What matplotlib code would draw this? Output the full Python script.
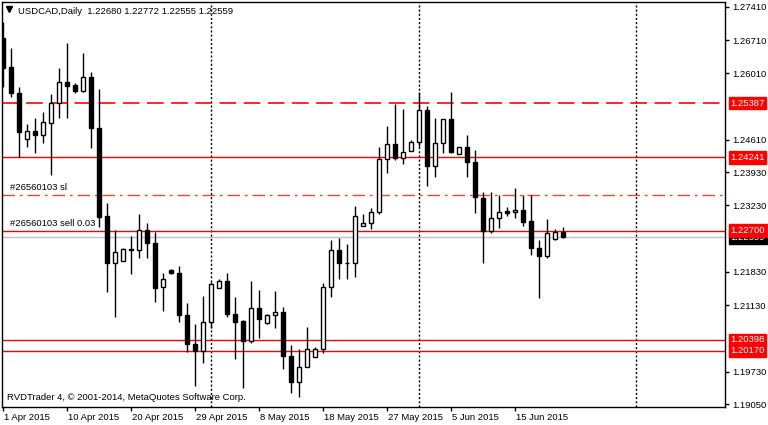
import matplotlib.pyplot as plt
import matplotlib.transforms as mtransforms
import numpy as np

plt.rcParams['font.family'] = ['Liberation Sans', 'DejaVu Sans']

# daily OHLC, USDCAD, 1 Apr - 22 Jun 2015
opens = [1.26757, 1.26147, 1.25599, 1.24630, 1.24799, 1.24715, 1.24967, 1.25389,
         1.25831, 1.25768, 1.25641, 1.25936, 1.24862, 1.23009, 1.22019, 1.22062,
         1.22314, 1.22293, 1.22714, 1.22441, 1.21514, 1.21872, 1.21809, 1.20924,
         1.20314, 1.20166, 1.20777, 1.21493, 1.21640, 1.20946, 1.20798, 1.20377,
         1.21072, 1.20756, 1.20924, 1.20988, 1.20061, 1.19514, 1.19829, 1.20040,
         1.20209, 1.21514, 1.22293, 1.22019, 1.22019, 1.22799, 1.22862, 1.23093,
         1.24209, 1.24525, 1.24230, 1.24378, 1.24567, 1.25241, 1.24062, 1.24546,
         1.25052, 1.24315, 1.24462, 1.24146, 1.23388, 1.22693, 1.22967, 1.23114,
         1.23093, 1.23135, 1.22904, 1.22335, 1.22167, 1.22525, 1.22680]
highs = [1.27094, 1.26547, 1.25725, 1.24946, 1.25073, 1.25199, 1.25578, 1.26126,
         1.26652, 1.25810, 1.26441, 1.26041, 1.25683, 1.23283, 1.22714, 1.22335,
         1.22588, 1.23051, 1.22862, 1.22672, 1.21809, 1.21893, 1.21956, 1.21177,
         1.20735, 1.21325, 1.21619, 1.21682, 1.21809, 1.21303, 1.20819, 1.21640,
         1.21451, 1.20946, 1.21430, 1.21093, 1.20293, 1.20209, 1.20672, 1.20251,
         1.21598, 1.22504, 1.22546, 1.22419, 1.23220, 1.23051, 1.23178, 1.24462,
         1.24904, 1.25367, 1.25262, 1.24609, 1.25620, 1.25325, 1.25073, 1.25052,
         1.25620, 1.24462, 1.24715, 1.24399, 1.23514, 1.23514, 1.23451, 1.23199,
         1.23599, 1.23451, 1.23451, 1.22504, 1.22946, 1.22735, 1.22772]
lows = [1.25725, 1.25515, 1.24251, 1.24462, 1.24336, 1.24546, 1.23872, 1.25073,
        1.25073, 1.25599, 1.25620, 1.24441, 1.22777, 1.21409, 1.20882, 1.22062,
        1.21788, 1.22125, 1.22125, 1.21198, 1.21009, 1.21788, 1.20777, 1.20145,
        1.19429, 1.19914, 1.20651, 1.21493, 1.20882, 1.19998, 1.19387, 1.20335,
        1.20440, 1.20735, 1.20651, 1.19787, 1.19282, 1.19198, 1.19829, 1.20040,
        1.20124, 1.21303, 1.21682, 1.21682, 1.21725, 1.22799, 1.22735, 1.23051,
        1.23915, 1.24188, 1.24104, 1.24378, 1.24462, 1.23641, 1.23830, 1.24336,
        1.24336, 1.24315, 1.23830, 1.23072, 1.22019, 1.22651, 1.22756, 1.23009,
        1.22967, 1.22799, 1.22188, 1.21282, 1.22125, 1.22504, 1.22555]
closes = [1.26126, 1.25599, 1.24778, 1.24799, 1.24715, 1.24988, 1.25389, 1.25831,
          1.25746, 1.25641, 1.25936, 1.24862, 1.22988, 1.22019, 1.22251, 1.22314,
          1.22293, 1.22714, 1.22441, 1.21493, 1.21682, 1.21809, 1.20924, 1.20314,
          1.20166, 1.20777, 1.21577, 1.21640, 1.20946, 1.20777, 1.20377, 1.21072,
          1.20840, 1.20924, 1.20988, 1.20061, 1.19514, 1.19829, 1.20209, 1.20209,
          1.21514, 1.22293, 1.22019, 1.22010, 1.23009, 1.22862, 1.23093, 1.24209,
          1.24525, 1.24230, 1.24357, 1.24567, 1.25241, 1.24062, 1.24546, 1.25052,
          1.24357, 1.24462, 1.24146, 1.23409, 1.22693, 1.22967, 1.23093, 1.23072,
          1.23135, 1.22883, 1.22335, 1.22167, 1.22651, 1.22672, 1.22559]

date_ticks = [0, 8, 16, 24, 32, 40, 48, 56, 64]
date_labels = ['1 Apr 2015', '10 Apr 2015', '20 Apr 2015', '29 Apr 2015', '8 May 2015',
               '18 May 2015', '27 May 2015', '5 Jun 2015', '15 Jun 2015']
price_ticks = [1.27410, 1.26710, 1.26010, 1.24610, 1.23930, 1.23230,
               1.21830, 1.21130, 1.19730, 1.19050]
month_separators = [26, 52, 79.1]

red_levels = [1.24241, 1.22700, 1.20398, 1.20170]
dashed_level = 1.25387
sl_level = 1.2345
bid = 1.22559

fig = plt.figure(figsize=(7.68, 4.25), dpi=100)
ax = fig.add_axes([2 / 768, 18 / 425, 723 / 768, 405 / 425])

o = np.array(opens)
h = np.array(highs)
l = np.array(lows)
c = np.array(closes)
x = np.arange(len(o))
up = c >= o
bottom = np.minimum(o, c)
height = np.abs(c - o)

ax.vlines(x, l, h, color='black', lw=1, zorder=3)
ax.bar(x[up], height[up], bottom=bottom[up], width=0.6,
       facecolor='white', edgecolor='black', lw=1, zorder=4)
ax.bar(x[~up], height[~up], bottom=bottom[~up], width=0.6,
       facecolor='black', edgecolor='black', lw=1, zorder=4)

for sx in month_separators:
    ax.axvline(sx, color='black', lw=1, ls=(0, (1.5, 1.5)), zorder=2)

ax.axhline(bid, color='#c0c0c0', lw=1, zorder=1)
for lvl in red_levels:
    ax.axhline(lvl, color='red', lw=1, zorder=2)
ax.axhline(dashed_level, color='red', lw=1.2, ls=(0, (10, 4.5)), zorder=2)
ax.axhline(sl_level, color='#ee4a1a', lw=1, ls=(0, (9, 3.5, 2, 3.5)), zorder=2)

ax.text(0.9, sl_level + 0.0006, '#26560103 sl', fontsize=6.8, va='bottom', ha='left',
        zorder=5)
ax.text(0.9, red_levels[1] + 0.0006, '#26560103 sell 0.03', fontsize=6.8,
        va='bottom', ha='left', zorder=5)

ax.set_xlim(-0.125, 90.25)
ax.set_ylim(1.18987, 1.27515)

ax.yaxis.tick_right()
ax.set_yticks(price_ticks, [f'{p:.5f}' for p in price_ticks])
ax.tick_params(axis='y', length=3, width=1, pad=2, labelsize=6.8)
ax.set_xticks(date_ticks, date_labels)
ax.tick_params(axis='x', length=3, width=1, pad=1.5, labelsize=6.8)
offset = mtransforms.ScaledTranslation(1 / 100, 0, fig.dpi_scale_trans)
for lab in ax.get_xticklabels():
    lab.set_horizontalalignment('left')
    lab.set_transform(lab.get_transform() + offset)

for sp in ax.spines.values():
    sp.set_color('black')
    sp.set_linewidth(1)

# price labels on the right scale; the bid label sits partly under the 1.22700 one
label_tf = mtransforms.blended_transform_factory(ax.transAxes, ax.transData)
ax.text(1.0075, bid, f'{bid:.5f}', transform=label_tf, fontsize=6.8, color='white',
        va='center', ha='left', clip_on=False, zorder=5,
        bbox=dict(boxstyle='square,pad=0.18', fc='black', ec='black'))
for lvl in [dashed_level] + red_levels:
    ax.text(1.0075, lvl, f'{lvl:.5f}', transform=label_tf, fontsize=6.8, color='white',
            va='center', ha='left', clip_on=False, zorder=6,
            bbox=dict(boxstyle='square,pad=0.18', fc='red', ec='red'))

ax.plot([(9 - 2) / 723], [1 - (9 - 2) / 405], marker='v', color='black', ms=4,
        transform=ax.transAxes, clip_on=False)
fig.text(18 / 768, 1 - 11 / 425, 'USDCAD,Daily  1.22680 1.22772 1.22555 1.22559',
         fontsize=6.8, va='center', ha='left')
fig.text(7 / 768, 1 - 397 / 425, 'RVDTrader 4, © 2001-2014, MetaQuotes Software Corp.',
         fontsize=6.8, va='center', ha='left')

fig.savefig('out.png', dpi=100)
